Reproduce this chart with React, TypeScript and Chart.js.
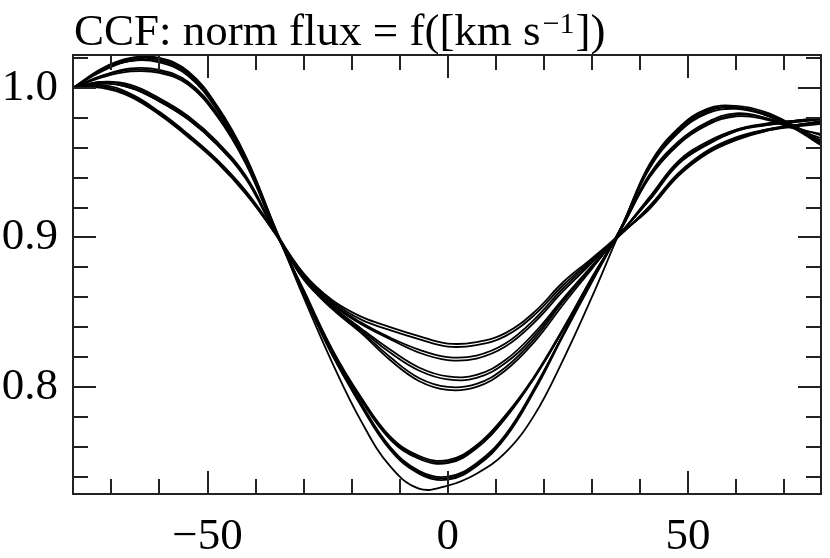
import { useEffect, useRef } from 'react'
import { Chart, registerables } from 'chart.js'

Chart.register(...registerables)

// velocity grid [km/s]
const velocity = [-78, -72, -66, -60, -54, -48, -42, -36, -30, -24, -18, -12, -6, 0, 6, 12, 18, 24, 30, 36, 42, 48, 54, 60, 66, 72, 78]

// deep profiles
const deep1 = [1.000, 1.013, 1.020, 1.020, 1.011, 0.988, 0.954, 0.907, 0.860, 0.816, 0.777, 0.747, 0.732, 0.734, 0.742, 0.756, 0.781, 0.818, 0.860, 0.905, 0.947, 0.971, 0.984, 0.987, 0.982, 0.973, 0.961]
const deep2 = [1.000, 1.012, 1.019, 1.019, 1.010, 0.987, 0.953, 0.907, 0.863, 0.822, 0.787, 0.758, 0.742, 0.738, 0.747, 0.766, 0.797, 0.834, 0.870, 0.906, 0.948, 0.972, 0.985, 0.987, 0.983, 0.974, 0.962]
const deep3 = [1.000, 1.012, 1.018, 1.018, 1.009, 0.986, 0.952, 0.906, 0.864, 0.823, 0.789, 0.760, 0.744, 0.740, 0.749, 0.768, 0.799, 0.835, 0.871, 0.906, 0.949, 0.973, 0.986, 0.988, 0.984, 0.975, 0.964]
const deep4 = [1.000, 1.008, 1.012, 1.011, 1.003, 0.982, 0.950, 0.906, 0.864, 0.824, 0.791, 0.765, 0.752, 0.749, 0.759, 0.779, 0.806, 0.838, 0.873, 0.905, 0.941, 0.963, 0.976, 0.982, 0.980, 0.974, 0.968]
const deep5 = [1.000, 1.011, 1.018, 1.017, 1.008, 0.985, 0.951, 0.905, 0.865, 0.825, 0.793, 0.767, 0.754, 0.751, 0.761, 0.781, 0.807, 0.839, 0.873, 0.905, 0.940, 0.962, 0.975, 0.981, 0.979, 0.973, 0.969]
const deep6 = [1.000, 1.007, 1.011, 1.010, 1.002, 0.981, 0.949, 0.905, 0.864, 0.824, 0.792, 0.766, 0.753, 0.750, 0.760, 0.780, 0.806, 0.838, 0.872, 0.906, 0.942, 0.964, 0.977, 0.983, 0.980, 0.973, 0.966]
const deep7 = [1.000, 1.008, 1.013, 1.012, 1.004, 0.983, 0.951, 0.906, 0.862, 0.821, 0.788, 0.759, 0.743, 0.739, 0.748, 0.767, 0.798, 0.835, 0.871, 0.906, 0.946, 0.970, 0.983, 0.986, 0.982, 0.974, 0.963]

// shallow profiles
const shallow1 = [1.000, 1.004, 1.001, 0.992, 0.980, 0.963, 0.940, 0.905, 0.876, 0.858, 0.847, 0.840, 0.834, 0.829, 0.830, 0.836, 0.850, 0.870, 0.886, 0.903, 0.926, 0.950, 0.963, 0.972, 0.976, 0.978, 0.980]
const shallow2 = [1.000, 1.001, 0.995, 0.983, 0.968, 0.951, 0.930, 0.903, 0.875, 0.857, 0.845, 0.838, 0.832, 0.827, 0.828, 0.834, 0.848, 0.868, 0.885, 0.902, 0.920, 0.942, 0.957, 0.966, 0.972, 0.975, 0.977]
const shallow3 = [1.000, 1.003, 1.000, 0.991, 0.979, 0.962, 0.939, 0.904, 0.875, 0.856, 0.843, 0.833, 0.825, 0.820, 0.821, 0.829, 0.845, 0.866, 0.884, 0.902, 0.921, 0.943, 0.958, 0.967, 0.972, 0.975, 0.978]
const shallow4 = [1.000, 1.000, 0.994, 0.982, 0.967, 0.950, 0.929, 0.903, 0.874, 0.855, 0.842, 0.832, 0.823, 0.818, 0.819, 0.827, 0.843, 0.864, 0.883, 0.903, 0.925, 0.949, 0.962, 0.971, 0.976, 0.978, 0.979]
const shallow5 = [1.000, 1.004, 1.002, 0.993, 0.981, 0.964, 0.941, 0.905, 0.873, 0.854, 0.839, 0.825, 0.813, 0.807, 0.808, 0.818, 0.836, 0.859, 0.881, 0.903, 0.927, 0.951, 0.964, 0.972, 0.975, 0.977, 0.979]
const shallow6 = [1.000, 1.002, 0.996, 0.984, 0.969, 0.952, 0.931, 0.904, 0.873, 0.853, 0.838, 0.823, 0.811, 0.805, 0.806, 0.816, 0.834, 0.858, 0.880, 0.902, 0.919, 0.941, 0.956, 0.965, 0.971, 0.974, 0.976]
const shallow7 = [1.000, 1.003, 1.000, 0.991, 0.979, 0.962, 0.940, 0.904, 0.872, 0.853, 0.837, 0.820, 0.806, 0.800, 0.802, 0.813, 0.832, 0.857, 0.880, 0.902, 0.920, 0.942, 0.957, 0.966, 0.971, 0.975, 0.977]
const shallow8 = [1.000, 1.001, 0.995, 0.983, 0.968, 0.951, 0.930, 0.903, 0.872, 0.852, 0.836, 0.818, 0.804, 0.798, 0.800, 0.811, 0.830, 0.855, 0.879, 0.903, 0.925, 0.949, 0.962, 0.971, 0.975, 0.978, 0.980]

const profiles = [deep1, deep2, deep3, deep4, deep5, deep6, deep7, shallow1, shallow2, shallow3, shallow4, shallow5, shallow6, shallow7, shallow8]

// axes
const xRange = [-78, 77.7]
const yRange = [0.7284, 1.022]
const xMajor = [-50, 0, 50]
const xMinor = [-70, -60, -40, -30, -20, -10, 10, 20, 30, 40, 60, 70]
const yMajor = [0.8, 0.9, 1.0]
const yMinor = [0.74, 0.76, 0.78, 0.82, 0.84, 0.86, 0.88, 0.92, 0.94, 0.96, 0.98, 1.02]

const FONT = '"Liberation Serif", "Times New Roman", serif'

const framePlugin = {
  id: 'frame',
  afterDraw(chart: any) {
    const { ctx, chartArea: a, scales } = chart
    const sx = scales.x
    const sy = scales.y
    ctx.save()
    ctx.strokeStyle = '#222'
    ctx.lineWidth = 2
    ctx.beginPath()
    const xt = (v: number, len: number) => {
      const p = Math.round(sx.getPixelForValue(v))
      ctx.moveTo(p, a.bottom)
      ctx.lineTo(p, a.bottom - len)
      ctx.moveTo(p, a.top)
      ctx.lineTo(p, a.top + len)
    }
    const yt = (v: number, len: number) => {
      const p = Math.round(sy.getPixelForValue(v))
      ctx.moveTo(a.left, p)
      ctx.lineTo(a.left + len, p)
      ctx.moveTo(a.right, p)
      ctx.lineTo(a.right - len, p)
    }
    xMajor.forEach((v) => xt(v, 23))
    xMinor.forEach((v) => xt(v, 15))
    yMajor.forEach((v) => yt(v, 23))
    yMinor.forEach((v) => yt(v, 15))
    ctx.stroke()
    ctx.strokeRect(a.left, a.top, a.right - a.left, a.bottom - a.top)

    // title with superscript
    ctx.fillStyle = '#000'
    ctx.textAlign = 'left'
    ctx.textBaseline = 'alphabetic'
    const base = 45
    let tx = a.left + 1
    ctx.font = '45px ' + FONT
    const t1 = 'CCF: norm flux = f([km s'
    ctx.fillText(t1, tx, base)
    tx += ctx.measureText(t1).width + 2
    ctx.font = '30px ' + FONT
    ctx.fillText('\u22121', tx, base - 12)
    tx += ctx.measureText('\u22121').width + 1
    ctx.font = '45px ' + FONT
    ctx.fillText('])', tx, base)
    ctx.restore()
  },
}

export default function App() {
  const canvasRef = useRef<HTMLCanvasElement>(null)
  const chartRef = useRef<Chart | null>(null)

  useEffect(() => {
    if (!canvasRef.current) return
    if (chartRef.current) chartRef.current.destroy()

    const datasets = profiles.map((p) => ({
      data: velocity.map((v, i) => ({ x: v, y: p[i] })),
      borderColor: '#000',
      borderWidth: 1.8,
      pointRadius: 0,
      fill: false,
      tension: 0.4,
    }))

    chartRef.current = new Chart(canvasRef.current, {
      type: 'line',
      data: { datasets },
      options: {
        responsive: false,
        animation: false,
        events: [],
        layout: { padding: { left: 0, top: 55, right: 9, bottom: 0 } },
        plugins: {
          legend: { display: false },
          tooltip: { enabled: false },
          title: { display: false },
        },
        scales: {
          x: {
            type: 'linear',
            min: xRange[0],
            max: xRange[1],
            grid: { display: false, drawTicks: false },
            border: { display: false },
            afterBuildTicks: (s: any) => {
              s.ticks = xMajor.map((v) => ({ value: v }))
            },
            afterFit: (s: any) => {
              s.height = 64
            },
            ticks: {
              autoSkip: false,
              maxRotation: 0,
              padding: 16,
              color: '#000',
              font: { family: FONT, size: 45 },
              callback: (v: any) => (Number(v) < 0 ? '\u2212' + Math.abs(Number(v)) : String(v)),
            },
          },
          y: {
            type: 'linear',
            min: yRange[0],
            max: yRange[1],
            grid: { display: false, drawTicks: false },
            border: { display: false },
            afterBuildTicks: (s: any) => {
              s.ticks = yMajor.map((v) => ({ value: v }))
            },
            afterFit: (s: any) => {
              s.width = 73
            },
            ticks: {
              autoSkip: false,
              padding: 15,
              color: '#000',
              font: { family: FONT, size: 45 },
              callback: (v: any) => Number(v).toFixed(1),
            },
          },
        },
      },
      plugins: [framePlugin],
    })

    return () => {
      if (chartRef.current) {
        chartRef.current.destroy()
        chartRef.current = null
      }
    }
  }, [])

  return (
    <div style={{ position: 'absolute', left: 0, top: 0, width: 830, height: 558, background: '#fff' }}>
      <canvas ref={canvasRef} width={830} height={558} />
    </div>
  )
}
